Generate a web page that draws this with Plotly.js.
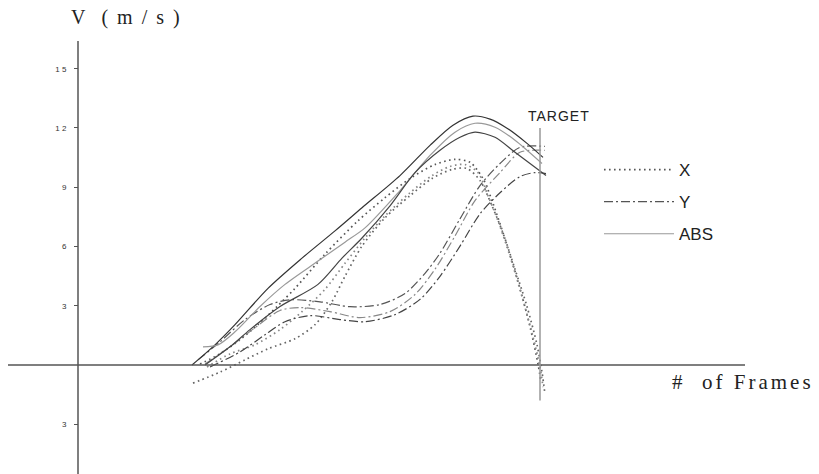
<!DOCTYPE html>
<html><head><meta charset="utf-8">
<script src="https://cdn.plot.ly/plotly-3.0.1.min.js"></script>
<style>html,body{margin:0;padding:0;background:#fff}</style>
</head><body><div id="chart" style="width:819px;height:474px"></div>
<script>
// ---- data (frames, velocity m/s) ----
const xFrames1 = [12.2,14.0,16.2,18.0,19.9,21.7,24.7,28.0,30.7,33.2,35.7,37.7,39.2,40.5,41.4,42.7,44.0,45.2,46.0,46.3];
const xVel1    = [0.05,0.51,1.28,2.04,2.96,3.88,5.61,7.30,8.47,9.44,10.15,10.41,10.26,9.44,8.32,6.38,4.23,1.94,0.05,-0.87];
const xFrames2 = [12.9,15.2,17.7,20.2,22.4,24.7,26.7,28.7,30.7,33.2,35.4,37.2,38.7,40.0,41.0,42.0,43.2,44.4,45.5,46.2,46.5];
const xVel2    = [-0.10,0.56,1.02,1.79,2.70,3.83,5.15,6.43,7.55,8.72,9.59,10.05,10.15,9.74,8.57,7.30,5.51,3.47,1.43,-0.10,-1.12];
const xFrames3 = [11.5,14.2,16.7,19.0,21.7,23.7,25.4,26.7,28.4,30.7,33.2,35.4,37.4,38.9,40.2,41.4,42.5,43.7,44.9,45.9,46.4,46.7];
const xVel3    = [-0.92,-0.36,0.26,0.82,1.33,2.04,3.21,4.49,6.02,7.45,8.57,9.44,9.90,9.95,9.34,8.06,6.68,4.85,2.96,1.02,-0.36,-1.48];

const yFrames1 = [12.0,14.2,16.7,19.2,21.2,24.2,27.2,30.2,32.7,34.7,36.2,38.2,40.2,42.2,44.2,46.7];
const yVel1    = [0.26,1.17,2.30,3.06,3.30,3.20,2.95,3.06,3.62,4.64,5.66,7.40,9.08,10.20,11.02,11.07];
const yFrames2 = [12.7,15.2,17.7,20.2,22.2,25.2,28.2,31.2,33.7,35.7,37.7,39.7,42.2,44.2,46.7];
const yVel2    = [0.05,0.92,1.89,2.76,2.91,2.70,2.40,2.70,3.57,4.85,6.53,8.32,9.74,10.77,10.87];
const yFrames3 = [13.2,16.2,18.7,20.7,23.2,26.2,28.7,31.7,34.2,36.2,38.2,40.2,42.2,44.2,45.7,46.8];
const yVel3    = [-0.10,0.66,1.53,2.19,2.50,2.30,2.19,2.55,3.32,4.49,6.02,7.65,8.72,9.54,9.74,9.69];

const absFrames1 = [11.4,13.7,15.7,19.0,22.4,25.7,28.4,32.2,35.2,37.5,39.5,41.2,42.9,44.9,46.5];
const absVel1    = [0,1.02,2.04,3.88,5.41,6.79,7.96,9.59,11.12,12.14,12.60,12.45,11.99,11.22,10.51];
const absFrames2 = [12.5,14.0,15.7,18.2,20.7,24.0,26.7,28.7,32.2,35.2,37.7,39.7,41.7,43.7,46.4];
const absVel2    = [0.92,1.02,1.68,2.96,4.08,5.26,6.22,6.94,8.83,10.61,11.79,12.24,12.04,11.38,10.20];
const absFrames3 = [12.7,15.2,17.2,20.2,24.0,26.4,28.4,31.2,33.7,36.2,38.2,39.7,41.7,43.7,46.8];
const absVel3    = [0,0.92,1.79,2.96,4.08,5.41,6.43,8.06,9.74,10.87,11.53,11.79,11.53,10.77,9.59];

const targetFrame = 46.2;
const yTickVals = [15,12,9,6,3,-3];
const yTickText = ['1\u00a05','1\u00a02','9','6','3','3'];
const seriesNames = ['X','Y','ABS'];

// ---- traces ----
const dotDash = '1.6px,3.4px';
const ydash = '9px,3px,2px,3px';
const traces = [];
function add(name, group, xs, ys, dash, color, width, showleg){
  traces.push({type:'scatter', mode:'lines', x:xs, y:ys, name:name, legendgroup:group,
    showlegend:showleg, hoverinfo:'skip',
    line:{shape:'spline', smoothing:0.8, dash:dash, color:color, width:width}});
}
add(seriesNames[0],'x',xFrames1,xVel1,dotDash,'#555',1.7,true);
add(seriesNames[0],'x',xFrames2,xVel2,dotDash,'#888',1.7,false);
add(seriesNames[0],'x',xFrames3,xVel3,dotDash,'#666',1.7,false);
add(seriesNames[1],'y',yFrames1,yVel1,ydash,'#555',1.2,true);
add(seriesNames[1],'y',yFrames2,yVel2,ydash,'#888',1.2,false);
add(seriesNames[1],'y',yFrames3,yVel3,ydash,'#444',1.2,false);
add(seriesNames[2],'abs',absFrames1,absVel1,'solid','#333',1.2,false);
add(seriesNames[2],'abs',absFrames2,absVel2,'solid','#999',1.2,true);
add(seriesNames[2],'abs',absFrames3,absVel3,'solid','#444',1.2,false);

const layout = {
  width:819, height:474,
  margin:{l:0,r:0,t:0,b:0},
  paper_bgcolor:'#fff', plot_bgcolor:'#fff',
  showlegend:true,
  legend:{x:599/819, y:1-152/474, xanchor:'left', yanchor:'top', itemwidth:70,
    tracegroupgap:7, traceorder:'grouped', bgcolor:'rgba(0,0,0,0)',
    font:{family:'Liberation Sans', size:17, color:'#222'}},
  xaxis:{range:[-7.8,74.1], visible:false, fixedrange:true},
  yaxis:{range:[-5.52,18.48], anchor:'free', position:78/819, showgrid:false,
    zeroline:false, showline:false, ticks:'outside', ticklen:4, tickwidth:1,
    tickcolor:'#555', tickvals:yTickVals, ticktext:yTickText, ticklabelstandoff:6,
    tickfont:{family:'Liberation Sans', size:8, color:'#333'}, fixedrange:true},
  shapes:[
    {type:'line', xref:'x', yref:'y', x0:-7, x1:66.7, y0:0, y1:0, line:{color:'#555', width:1.5}},
    {type:'line', xref:'x', yref:'y', x0:0, x1:0, y0:-5.8, y1:16.4, line:{color:'#555', width:1.5}},
    {type:'line', xref:'x', yref:'y', x0:targetFrame, x1:targetFrame, y0:-1.8, y1:12.0, line:{color:'#999', width:1.5}}
  ],
  annotations:[
    {xref:'paper', yref:'paper', x:81/819, y:1-17/474, xanchor:'left', yanchor:'middle', showarrow:false,
     text:'V\u00a0\u00a0(\u00a0m\u00a0/\u00a0s\u00a0)', font:{family:'Liberation Serif', size:20, color:'#222'}},
    {xref:'paper', yref:'paper', x:688/819, y:1-382/474, xanchor:'left', yanchor:'middle', showarrow:false,
     text:'#\u00a0\u00a0of\u00a0Frames', font:{family:'Liberation Serif', size:21, color:'#222'}},
    {xref:'paper', yref:'paper', x:529/819, y:1-116/474, xanchor:'left', yanchor:'middle', showarrow:false,
     text:'TARGET', font:{family:'Liberation Sans', size:14, color:'#222'}}
  ]
};
Plotly.newPlot('chart', traces, layout, {staticPlot:true, displayModeBar:false}).then(function(){
  const spacing = ['2px','3px','1px'];
  document.querySelectorAll('#chart .annotation-text').forEach(function(el, i){
    el.setAttribute('letter-spacing', spacing[i] || '0px');
  });
});
</script></body></html>
